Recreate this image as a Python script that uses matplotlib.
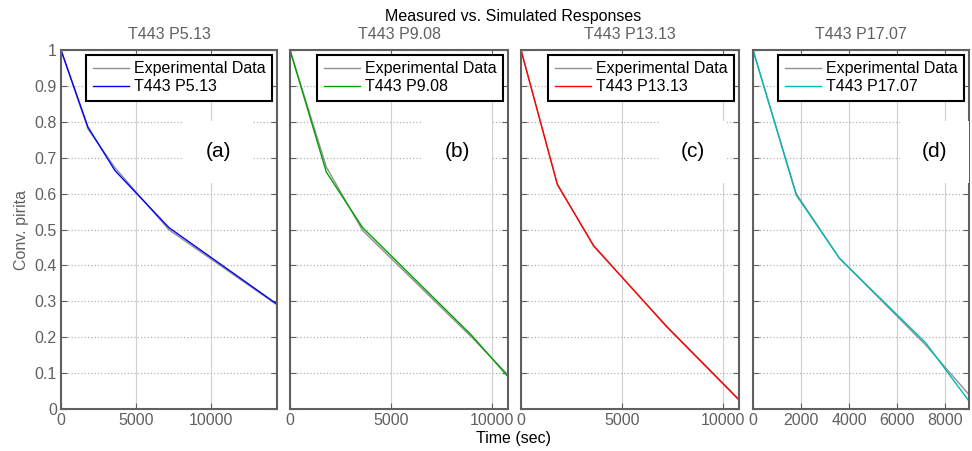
import numpy as np
import matplotlib
matplotlib.use("Agg")
import matplotlib.pyplot as plt

plt.rcParams['font.family'] = ['Liberation Sans', 'DejaVu Sans']

# data (time in sec, conversion)
t_a = [0, 1800, 3600, 7200, 14400]
exp_a = [1.0, 0.78, 0.672, 0.499, 0.29]
sim_a = [1.0, 0.785, 0.664, 0.505, 0.292]

t_b = [0, 1800, 3600, 9000, 10800]
exp_b = [1.0, 0.674, 0.497, 0.2, 0.095]
sim_b = [1.0, 0.66, 0.505, 0.205, 0.09]

t_c = [0, 1800, 3600, 7200, 10800]
exp_c = [1.0, 0.627, 0.453, 0.232, 0.027]
sim_c = [1.0, 0.625, 0.455, 0.23, 0.025]

t_d = [0, 1800, 3600, 7200, 9000]
exp_d = [1.0, 0.6, 0.42, 0.178, 0.04]
sim_d = [1.0, 0.596, 0.42, 0.184, 0.022]

names = ["T443 P5.13", "T443 P9.08", "T443 P13.13", "T443 P17.07"]
tags = ["(a)", "(b)", "(c)", "(d)"]
colors = ["#0000ff", "#00a000", "#ff0000", "#00b8b8"]
xlims = [14400, 10800, 10800, 9000]
xticks = [[0, 5000, 10000], [0, 5000, 10000], [0, 5000, 10000],
          [0, 2000, 4000, 6000, 8000]]
tag_x = [0.73, 0.77, 0.79, 0.84]

times = [t_a, t_b, t_c, t_d]
exps = [exp_a, exp_b, exp_c, exp_d]
sims = [sim_a, sim_b, sim_c, sim_d]

fig = plt.figure(figsize=(9.72, 4.51), dpi=100)
lefts = [61, 290, 521, 753]
widths = [216, 218, 218, 216]
spine_c = "#606060"
txt_c = "#606060"

for i in range(4):
    ax = fig.add_axes([lefts[i] / 972, 1 - 409 / 451, widths[i] / 972, 359 / 451])
    ax.plot(times[i], exps[i], color="#909090", lw=1.0, label="Experimental Data")
    ax.plot(times[i], sims[i], color=colors[i], lw=1.0, label=names[i])
    ax.set_xlim(0, xlims[i])
    ax.set_ylim(0, 1)
    ax.set_xticks(xticks[i])
    ax.set_yticks(np.arange(0, 1.01, 0.1))
    if i == 0:
        ax.set_yticklabels(["0", "0.1", "0.2", "0.3", "0.4", "0.5", "0.6",
                            "0.7", "0.8", "0.9", "1"])
        ax.set_ylabel("Conv. pirita", color=txt_c, fontsize=11.5, labelpad=4)
    else:
        ax.set_yticklabels([])
    ax.tick_params(direction="in", top=True, right=True, length=4,
                   color=spine_c, labelcolor=txt_c, labelsize=11.5, pad=3)
    ax.yaxis.grid(True, linestyle=":", color="#b4b4b4", lw=0.9)
    ax.xaxis.grid(True, linestyle="-", color="#d0d0d0", lw=0.8)
    ax.set_axisbelow(True)
    for s in ax.spines.values():
        s.set_color(spine_c)
        s.set_linewidth(1.5)
    ax.set_title(names[i], color=txt_c, fontsize=11.5, pad=8)
    leg = ax.legend(loc="upper right", fontsize=11.5, borderaxespad=0.3,
                    borderpad=0.4, labelspacing=0.2, handlelength=2.3,
                    handletextpad=0.3, fancybox=False, framealpha=1)
    leg.get_frame().set_edgecolor("black")
    leg.get_frame().set_linewidth(1.5)
    ax.text(tag_x[i], 0.716, tags[i], transform=ax.transAxes, fontsize=15,
            ha="center", va="center", color="black",
            bbox=dict(boxstyle="square,pad=1.05", facecolor="white",
                      edgecolor="none"))

fig.text(513 / 972, 1 - 16 / 451, "Measured vs. Simulated Responses",
         ha="center", va="center", fontsize=11.5, color="black")
fig.text(514 / 972, 1 - 438 / 451, "Time (sec)",
         ha="center", va="center", fontsize=11.5, color="black")

fig.savefig("out.png", dpi=100)
